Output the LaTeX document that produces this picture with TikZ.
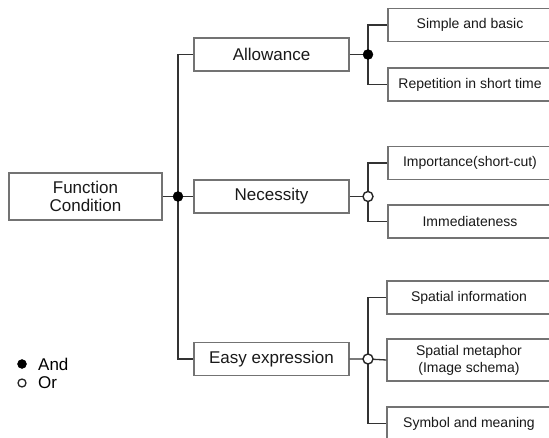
\documentclass[tikz,border=0pt]{standalone}
\usepackage{fontspec}
\setmainfont{Liberation Sans}
\begin{document}
\begin{tikzpicture}[x=1pt,y=-1pt,
  box/.style={draw=black!55,line width=1.1pt,fill=white,inner sep=0pt,align=center,text=black!90},
  rootbox/.style={box,minimum width=153pt,minimum height=47pt,font=\fontsize{17}{19}\selectfont},
  midbox/.style={box,minimum width=155pt,minimum height=33pt,font=\fontsize{17}{19}\selectfont},
  leafbox/.style={box,minimum width=164pt,minimum height=33pt,font=\fontsize{14}{17}\selectfont},
  conn/.style={draw=black!80,line width=1.3pt},
  anddot/.style={circle,fill=black,draw=black,inner sep=0pt,minimum size=10pt},
  ordot/.style={circle,fill=white,draw=black!85,line width=1.4pt,inner sep=0pt,minimum size=10pt},
  legtext/.style={anchor=west,font=\fontsize{17}{19}\selectfont,inner sep=0pt}]
\clip (0,0) rectangle (549,438);
\fill[white] (0,0) rectangle (549,438);

% nodes
\node[rootbox] (fc) at (85.5,196.5) {Function\\[-1pt]Condition};
\node[midbox] (al) at (271.5,54.5) {Allowance};
\node[midbox] (ne) at (271.5,196.5) {Necessity};
\node[midbox] (ee) at (271.5,359) {Easy expression};

\node[leafbox] (sb) at (470,25) {Simple and basic};
\node[leafbox] (rp) at (470,84.5) {Repetition in short time};
\node[leafbox] (im) at (470,163) {Importance(short-cut)};
\node[leafbox] (id) at (470,221.5) {Immediateness};
\node[leafbox] (si) at (469,297.5) {Spatial information};
\node[leafbox,minimum height=42pt] (sm) at (469,360) {Spatial metaphor\\(Image schema)};
\node[leafbox] (sy) at (469,423.5) {Symbol and meaning};

% junctions
\coordinate (j0) at (178,196.5);
\coordinate (j1) at (368,54.5);
\coordinate (j2) at (368,196.5);
\coordinate (j3) at (368,359);

% connectors
\draw[conn] (fc.east) -- (j0) -- (ne.west);
\draw[conn] (al.west) -| (j0) |- (ee.west);
\draw[conn] (al.east) -- (j1);
\draw[conn] (sb.west) -| (j1) |- (rp.west);
\draw[conn] (ne.east) -- (j2);
\draw[conn] (im.west) -| (j2) |- (id.west);
\draw[conn] (ee.east) -- (j3) -- (sm.west);
\draw[conn] (si.west) -| (j3) |- (sy.west);

\node[anddot] at (j0) {};
\node[anddot] at (j1) {};
\node[ordot] at (j2) {};
\node[ordot] at (j3) {};

% legend
\node[anddot,minimum size=9pt] (la) at (22,364) {};
\node[ordot,minimum size=8pt,line width=1.3pt] (lo) at (22,383) {};
\node[legtext] at (38,364) {And};
\node[legtext] at (38,383) {Or};
\end{tikzpicture}
\end{document}
